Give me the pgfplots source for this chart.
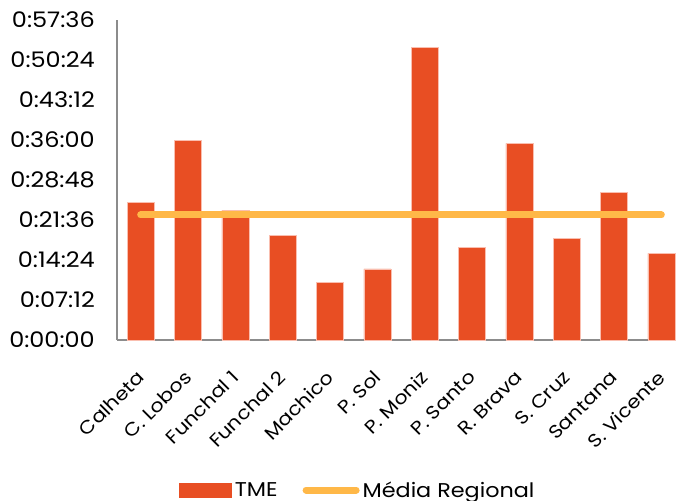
\documentclass[border=0pt]{standalone}
\usepackage{fontspec}
\setmainfont{Poppins}
\newfontfamily\labfont[FakeStretch=1.12]{Poppins}
\usepackage{pgfplots}
\pgfplotsset{compat=1.18}
\definecolor{barc}{HTML}{E84E23}
\definecolor{linec}{HTML}{FFB848}
\definecolor{axc}{HTML}{8C8C8C}
\begin{document}
\begin{tikzpicture}
\useasboundingbox (0,0) rectangle (676bp,501bp);
\begin{axis}[at={(117bp,161bp)}, anchor=south west, scale only axis,
  width=568bp, height=320bp,
  xmin=-0.5, xmax=11.5, ymin=0, ymax=57.6,
  axis x line=bottom, axis y line=left,
  axis line style={draw=axc, line width=1.5bp, -},
  major tick length=0pt,
  xtick={0,1,2,3,4,5,6,7,8,9,10,11},
  xticklabels={Calheta,C. Lobos,Funchal 1,Funchal 2,Machico,P. Sol,P. Moniz,P. Santo,R. Brava,S. Cruz,Santana,S. Vicente},
  xticklabel style={font=\labfont\fontsize{18.5}{18.5}\selectfont, rotate=45, anchor=east, inner sep=0bp, yshift=-24bp, xshift=-24bp},
  ytick={0,7.2,14.4,21.6,28.8,36,43.2,50.4,57.6},
  yticklabels={0:00:00,0:07:12,0:14:24,0:21:36,0:28:48,0:36:00,0:43:12,0:50:24,0:57:36},
  yticklabel style={font=\labfont\fontsize{21.5}{21.5}\selectfont, anchor=east, inner sep=0pt, xshift=-22bp},
  legend style={at={(0.425,-0.469)}, anchor=center, draw=none, font=\labfont\fontsize{20}{20}\selectfont,
    inner sep=0pt, legend columns=2, /tikz/every even column/.append style={column sep=22bp},
    /tikz/every node/.append style={inner xsep=3bp}},
  clip=false,
]
\addplot[ybar, bar width=27bp, fill=barc, draw={rgb,255:red,250;green,190;blue,175}, line width=0.5bp,
  legend image code/.code={\fill[barc] (0bp,-7bp) rectangle (52bp,7bp);}]
  coordinates {(0,24.79) (1,35.87) (2,23.35) (3,18.77) (4,10.39) (5,12.78) (6,52.61) (7,16.69) (8,35.41) (9,18.31) (10,26.51) (11,15.61)};
\addlegendentry{TME}
\addplot[linec, line width=7bp, line cap=round,
  legend image code/.code={\draw[linec, line width=7bp, line cap=round] (4bp,0bp) -- (54bp,0bp);}]
  coordinates {(0,22.5) (11,22.5)};
\addlegendentry{Média Regional}
\end{axis}
\end{tikzpicture}
\end{document}
